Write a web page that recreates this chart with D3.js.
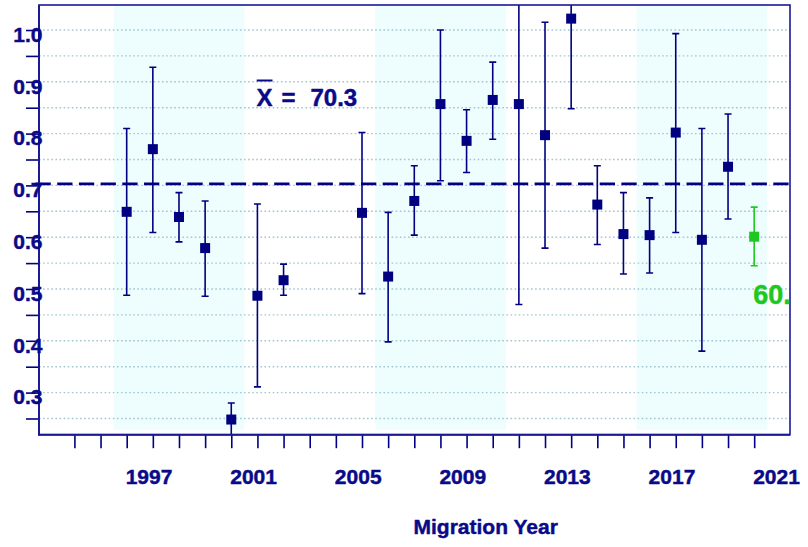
<!DOCTYPE html>
<html>
<head>
<meta charset="utf-8">
<script src="https://cdn.jsdelivr.net/npm/d3@7"></script>
<style>
  html, body { margin: 0; padding: 0; background: #ffffff; }
  svg { display: block; font-family: "Liberation Sans", Arial, Helvetica, sans-serif; font-weight: bold; }
</style>
</head>
<body>
<svg id="chart" width="808" height="547"></svg>
<script>
// Migration-year estimates with confidence limits
const years  = [1997, 1998, 1999, 2000, 2001, 2002, 2003, 2006, 2007, 2008, 2009, 2010,
                2011, 2012, 2013, 2014, 2015, 2016, 2017, 2018, 2019, 2020, 2021];
const values = [0.649, 0.770, 0.639, 0.579, 0.248, 0.487, 0.517, 0.647, 0.524, 0.670, 0.857, 0.786,
                0.865, 0.857, 0.797, 1.022, 0.663, 0.606, 0.604, 0.802, 0.595, 0.736, 0.601];
const upper  = [0.810, 0.928, 0.686, 0.670, 0.280, 0.664, 0.548, 0.802, 0.648, 0.738, 1.000, 0.846,
                0.938, 1.120, 1.015, 1.190, 0.738, 0.686, 0.676, 0.993, 0.810, 0.838, 0.658];
const lower  = [0.488, 0.609, 0.591, 0.486, 0.200, 0.311, 0.488, 0.491, 0.398, 0.604, 0.709, 0.725,
                0.789, 0.470, 0.579, 0.848, 0.586, 0.529, 0.531, 0.609, 0.380, 0.635, 0.545];
const currentYear = 2021;
const meanValue = 0.703;
const meanLabel = "70.3";
const currentLabel = "60.1";

// Shaded five-year blocks
const bandStarts = [1996.5, 2006.5, 2016.5];
const bandEnds   = [2001.5, 2011.5, 2021.5];

// Axis ticks
const yMinorTicks = d3.range(0.25, 1.0001, 0.05).map(v => +v.toFixed(2));
const yLabelTicks = [0.3, 0.4, 0.5, 0.6, 0.7, 0.8, 0.9, 1.0];
const xTicks = d3.range(1995, 2022);
const xLabelTicks = [1997, 2001, 2005, 2009, 2013, 2017, 2021];
const xTitle = "Migration Year";

const navy = "#000080";
const textNavy = "#0a0a88";
const green = "#1ec81e";

const plot = { left: 39, right: 790, top: 5, bottom: 434.7 };

const x = d3.scaleLinear().domain([1993.646, 2022.37]).range([plot.left, plot.right]);
const y = d3.scaleLinear().domain([0.2187, 1.0483]).range([plot.bottom, plot.top]);

const svg = d3.select("#chart");
svg.append("rect").attr("width", 808).attr("height", 547).attr("fill", "#ffffff");

svg.append("defs").append("clipPath").attr("id", "plotClip")
  .append("rect")
  .attr("x", plot.left).attr("y", plot.top)
  .attr("width", plot.right - plot.left).attr("height", plot.bottom - plot.top);

const inner = svg.append("g").attr("clip-path", "url(#plotClip)");

// shaded bands
inner.selectAll("rect.band")
  .data(d3.zip(bandStarts, bandEnds))
  .join("rect")
  .attr("class", "band")
  .attr("x", d => x(d[0]))
  .attr("width", d => x(d[1]) - x(d[0]))
  .attr("y", plot.top)
  .attr("height", y(0.228) - plot.top)
  .attr("fill", "#eefefe");

// dotted gridlines
inner.selectAll("line.grid")
  .data(yMinorTicks)
  .join("line")
  .attr("class", "grid")
  .attr("x1", plot.left).attr("x2", plot.right)
  .attr("y1", d => y(d)).attr("y2", d => y(d))
  .attr("stroke", "#a2c6d0")
  .attr("stroke-width", 1.4)
  .attr("stroke-dasharray", "1.6,2.5");

// mean line
svg.append("line")
  .attr("x1", plot.left - 3.5).attr("x2", plot.right)
  .attr("y1", y(meanValue)).attr("y2", y(meanValue))
  .attr("stroke", navy)
  .attr("stroke-width", 2.8)
  .attr("stroke-dasharray", "15.3,6.4");

// error bars
const pts = years.map((yr, i) => ({ yr, v: values[i], hi: upper[i], lo: lower[i] }));
const colorOf = d => d.yr === currentYear ? green : navy;

const eb = inner.selectAll("g.eb").data(pts).join("g").attr("class", "eb");
eb.append("line")
  .attr("x1", d => x(d.yr)).attr("x2", d => x(d.yr))
  .attr("y1", d => y(d.hi)).attr("y2", d => y(d.lo))
  .attr("stroke", colorOf).attr("stroke-width", 1.6);
eb.append("line")
  .attr("x1", d => x(d.yr) - 3.5).attr("x2", d => x(d.yr) + 3.5)
  .attr("y1", d => y(d.hi)).attr("y2", d => y(d.hi))
  .attr("stroke", colorOf).attr("stroke-width", 1.6);
eb.append("line")
  .attr("x1", d => x(d.yr) - 3.5).attr("x2", d => x(d.yr) + 3.5)
  .attr("y1", d => y(d.lo)).attr("y2", d => y(d.lo))
  .attr("stroke", colorOf).attr("stroke-width", 1.6);

// square markers
svg.selectAll("rect.pt").data(pts).join("rect")
  .attr("class", "pt")
  .attr("x", d => x(d.yr) - 5).attr("y", d => y(d.v) - 5)
  .attr("width", 10).attr("height", 10)
  .attr("fill", colorOf);

// axes: ticks only, labels placed separately
const yAxis = d3.axisLeft(y).tickValues(yMinorTicks).tickSize(13).tickFormat("");
const gy = svg.append("g").attr("transform", `translate(${plot.left},0)`).call(yAxis);
gy.select(".domain").remove();
gy.selectAll(".tick line").attr("stroke", navy).attr("stroke-width", 1.6);

const xAxis = d3.axisBottom(x).tickValues(xTicks).tickSize(13.5).tickFormat("");
const gx = svg.append("g").attr("transform", `translate(0,${plot.bottom})`).call(xAxis);
gx.select(".domain").remove();
gx.selectAll(".tick line").attr("stroke", navy).attr("stroke-width", 1.6);

// frame
svg.append("rect")
  .attr("x", plot.left).attr("y", plot.top)
  .attr("width", plot.right - plot.left).attr("height", plot.bottom - plot.top)
  .attr("fill", "none").attr("stroke", "#1a1a96").attr("stroke-width", 1.6);
svg.append("line")
  .attr("x1", plot.left).attr("x2", plot.left)
  .attr("y1", plot.top).attr("y2", plot.bottom + 1)
  .attr("stroke", "#1a1a96").attr("stroke-width", 2);
svg.append("line")
  .attr("x1", plot.left).attr("x2", plot.right)
  .attr("y1", plot.bottom).attr("y2", plot.bottom)
  .attr("stroke", "#1a1a96").attr("stroke-width", 2);

// text weight helper: thin outline in the fill colour
const heavy = sel => sel.attr("stroke", sel.attr("fill")).attr("stroke-width", 0.45)
  .attr("stroke-linejoin", "round");

// tick labels
svg.selectAll("text.ylab").data(yLabelTicks).join("text")
  .attr("class", "ylab")
  .attr("x", 42.5)
  .attr("y", d => y(d) + 11.8)
  .attr("text-anchor", "end")
  .attr("font-size", 21)
  .attr("fill", textNavy)
  .attr("stroke", textNavy).attr("stroke-width", 0.45)
  .text(d => d3.format(".1f")(d));

svg.selectAll("text.xlab").data(xLabelTicks).join("text")
  .attr("class", "xlab")
  .attr("x", d => x(d) - 1)
  .attr("y", 483.5)
  .attr("font-size", 21)
  .attr("fill", textNavy)
  .attr("stroke", textNavy).attr("stroke-width", 0.45)
  .text(d => d);

svg.append("text")
  .attr("x", 413.5).attr("y", 533.5)
  .attr("font-size", 21)
  .attr("fill", textNavy)
  .call(heavy)
  .text(xTitle);

// mean annotation: X-bar = value
const meanText = svg.append("text")
  .attr("y", 105.5)
  .attr("font-size", 24)
  .attr("fill", textNavy)
  .call(heavy);
meanText.append("tspan").attr("x", 256.5).text("X");
meanText.append("tspan").attr("x", 281.5).text("=");
meanText.append("tspan").attr("x", 310.5).text(meanLabel);
svg.append("line")
  .attr("x1", 256.7).attr("x2", 272.5)
  .attr("y1", 80.5).attr("y2", 80.5)
  .attr("stroke", textNavy).attr("stroke-width", 2);

// current-year value label
svg.append("text")
  .attr("clip-path", "url(#plotClip)")
  .attr("x", x(currentYear) - 1)
  .attr("y", 303.5)
  .attr("font-size", 27)
  .attr("fill", green)
  .call(heavy)
  .text(currentLabel);
</script>
</body>
</html>
